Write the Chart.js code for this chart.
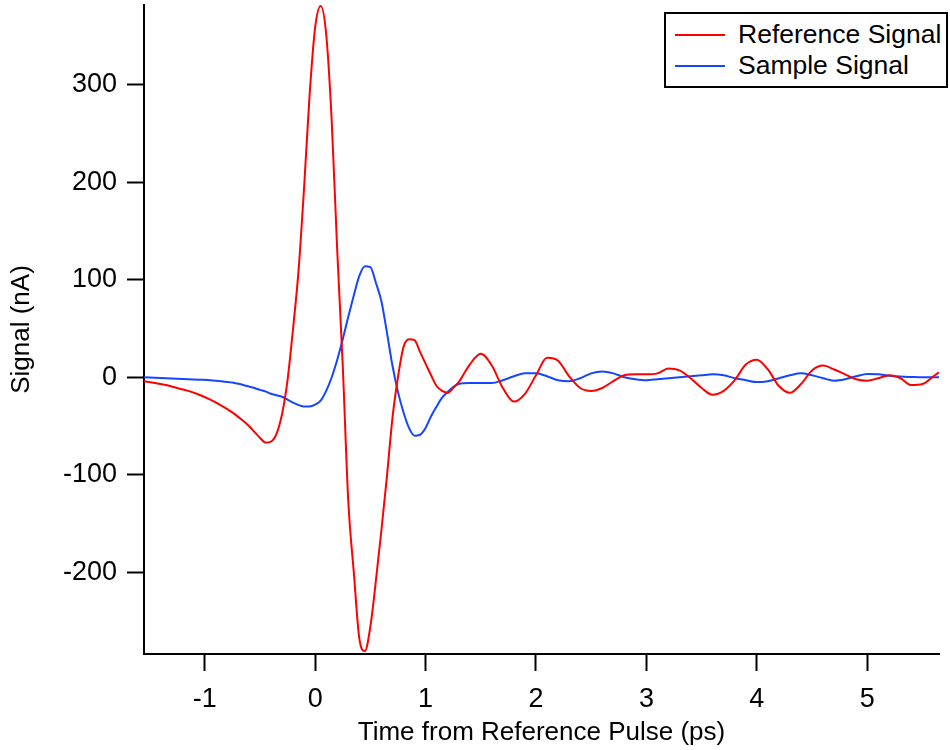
<!DOCTYPE html>
<html>
<head>
<meta charset="utf-8">
<title>Reference and sample signal</title>
<script src="https://cdn.jsdelivr.net/npm/chart.js@4.4.1/dist/chart.umd.min.js"></script>
<style>
  html, body { margin: 0; padding: 0; background: #fff; }
  #wrap { position: relative; width: 950px; height: 750px; }
  #legend {
    position: absolute; left: 664px; top: 12px; width: 280px; height: 67px;
    border: 2px solid #000; background: #fff;
    font-family: 'Liberation Sans', Arial, sans-serif; font-size: 26.5px; color: #000;
    padding-top: 5px; box-sizing: content-box;
  }
  #legend .row { display: flex; align-items: center; height: 31px; white-space: nowrap; }
  #legend .swatch { width: 50px; height: 2px; margin-left: 9px; margin-right: 13px; }
</style>
</head>
<body>
<div id="wrap">
  <canvas id="myChart" width="950" height="750"></canvas>
  <div id="legend"></div>
</div>
<script>
// time axis in ps (denser sampling around the main pulse)
const times = [
  -1.55, -1.45, -1.35, -1.25, -1.15, -1.05, -0.95, -0.85, -0.75, -0.65,
  -0.6, -0.55, -0.5, -0.45, -0.4, -0.35, -0.3, -0.25, -0.2, -0.15,
  -0.1, -0.05, 0, 0.05, 0.1, 0.15, 0.2, 0.25, 0.3, 0.35,
  0.4, 0.45, 0.5, 0.55, 0.6, 0.65, 0.7, 0.75, 0.8, 0.85,
  0.9, 0.95, 1.0, 1.05, 1.1, 1.15, 1.2, 1.25, 1.3, 1.4,
  1.5, 1.6, 1.7, 1.8, 1.9, 2.0, 2.1, 2.2, 2.3, 2.4,
  2.5, 2.6, 2.7, 2.8, 2.9, 3.0, 3.1, 3.2, 3.3, 3.4,
  3.5, 3.6, 3.7, 3.8, 3.9, 4.0, 4.1, 4.2, 4.3, 4.4,
  4.5, 4.6, 4.7, 4.8, 4.9, 5.0, 5.1, 5.2, 5.3, 5.4,
  5.5, 5.6, 5.65
];

// signal in nA
const referenceSignal = [
  -4, -6, -8, -11, -14, -18, -23, -29, -36, -45,
  -50, -56, -62, -67, -66, -58, -38, -3, 50, 110,
  195, 290, 359, 381, 352, 263, 130, 12, -127, -200,
  -268, -281, -256, -209, -157, -102, -42, 0, 31, 39,
  38, 26, 14, 2, -9, -14, -16, -11, -5, 13,
  24, 12, -11, -25, -17, 2, 20, 17, 1, -11,
  -14, -11, -4, 2, 3, 3, 4, 9, 7, -1,
  -11, -18, -14, -3, 13, 18, 8, -9, -16, -7,
  7, 12, 8, 3, -2, -3.5, -1, 2, -1, -8,
  -7, 1, 5
];

const sampleSignal = [
  0, -0.5, -1, -1.5, -2, -2.5, -3, -4, -5.5, -8,
  -9.5, -11, -13, -14.5, -17, -18.5, -20, -23, -26, -28.5,
  -30, -30, -28, -24, -14, 0, 18, 39, 62, 84,
  104, 114, 113, 97, 78, 46, 12, -15, -36, -52,
  -60, -59, -52, -40, -30, -21, -15, -10, -7, -6,
  -6, -6, -3, 1, 4, 4, 1, -3, -4, -1,
  4, 6, 4, 0, -2, -3, -2, -1, 0, 1,
  2, 3, 2, -1, -3, -5, -4, -1, 2, 4,
  2, -1, -3.5, -2, 1, 3.4, 3, 1.5, 0.7, 0.3,
  0, 0, 0
];

const xTicks = [-1, 0, 1, 2, 3, 4, 5];
const yTicks = [-200, -100, 0, 100, 200, 300];

const fontFamily = "'Liberation Sans', Arial, sans-serif";
Chart.defaults.font.family = fontFamily;
Chart.defaults.color = '#000';

const toPoints = vals => times.map((t, i) => ({ x: t, y: vals[i] }));

// html legend with a framed box, built from the datasets
const htmlLegend = {
  id: 'htmlLegend',
  afterUpdate(chart) {
    const box = document.getElementById('legend');
    box.innerHTML = '';
    chart.data.datasets.forEach(ds => {
      const row = document.createElement('div');
      row.className = 'row';
      const sw = document.createElement('span');
      sw.className = 'swatch';
      sw.style.background = ds.borderColor;
      const txt = document.createElement('span');
      txt.textContent = ds.label;
      row.appendChild(sw);
      row.appendChild(txt);
      box.appendChild(row);
    });
  }
};

const ctx = document.getElementById('myChart');

new Chart(ctx, {
  type: 'line',
  data: {
    datasets: [
      {
        label: 'Reference Signal',
        data: toPoints(referenceSignal),
        borderColor: 'rgb(255, 0, 0)',
        borderWidth: 2
      },
      {
        label: 'Sample Signal',
        data: toPoints(sampleSignal),
        borderColor: 'rgb(20, 70, 255)',
        borderWidth: 2
      }
    ]
  },
  options: {
    responsive: false,
    animation: false,
    layout: { padding: { top: 5, right: 11, left: 0, bottom: 0 } },
    elements: {
      point: { radius: 0 },
      line: { cubicInterpolationMode: 'monotone', fill: false }
    },
    plugins: {
      legend: { display: false },
      tooltip: { enabled: false }
    },
    scales: {
      x: {
        type: 'linear',
        min: -1.55,
        max: 5.65,
        afterBuildTicks: s => { s.ticks = xTicks.map(v => ({ value: v })); },
        afterFit: s => { s.height = 96; s.paddingLeft = 0; s.paddingRight = 0; },
        grid: { drawOnChartArea: false, tickLength: 17, tickWidth: 2, tickColor: '#000' },
        border: { color: '#000', width: 2 },
        ticks: { color: '#000', font: { size: 27 }, padding: 12, maxRotation: 0 },
        title: {
          display: true,
          text: 'Time from Reference Pulse (ps)',
          color: '#000',
          font: { size: 26 },
          padding: { top: 0, bottom: 2 }
        }
      },
      y: {
        min: -284,
        max: 382,
        afterBuildTicks: s => { s.ticks = yTicks.map(v => ({ value: v })); },
        afterFit: s => { s.width = 144; s.paddingTop = 0; s.paddingBottom = 0; },
        grid: { drawOnChartArea: false, tickLength: 17, tickWidth: 2, tickColor: '#000' },
        border: { color: '#000', width: 2 },
        ticks: { color: '#000', font: { size: 27 }, padding: 10 },
        title: {
          display: true,
          text: 'Signal (nA)',
          color: '#000',
          font: { size: 26 },
          padding: { top: 6, bottom: 0 }
        }
      }
    }
  },
  plugins: [htmlLegend]
});
</script>
</body>
</html>
